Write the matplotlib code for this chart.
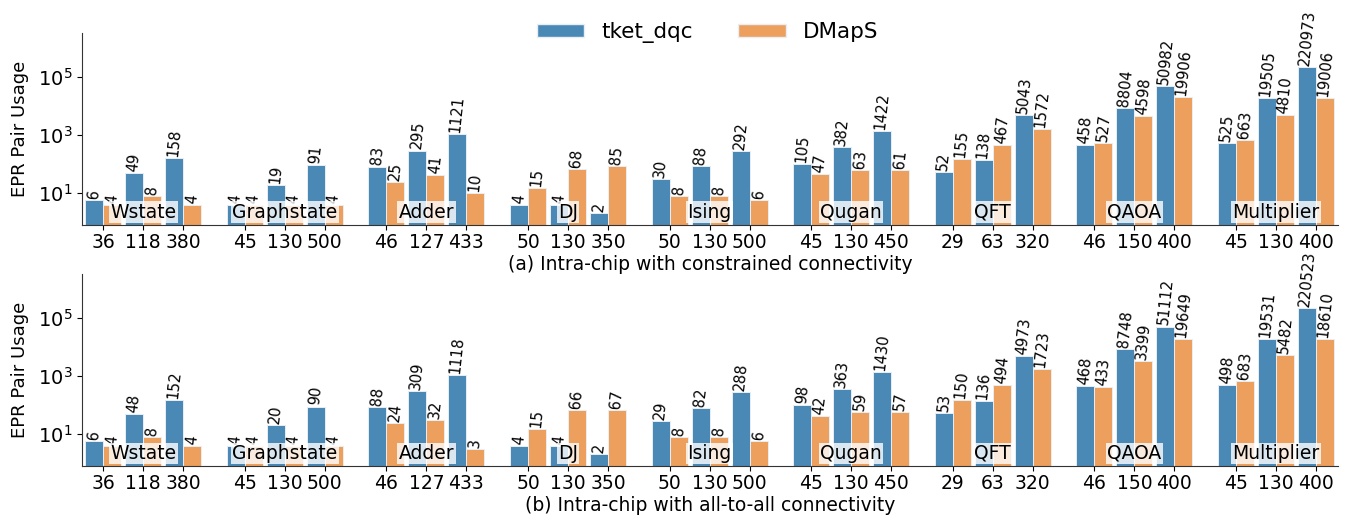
import matplotlib
matplotlib.use("Agg")
import matplotlib.pyplot as plt
import numpy as np
from matplotlib.patches import Patch
from matplotlib.ticker import NullLocator

benchmarks = ["Wstate", "Graphstate", "Adder", "DJ", "Ising", "Qugan", "QFT", "QAOA", "Multiplier"]
sizes = [[36, 118, 380], [45, 130, 500], [46, 127, 433], [50, 130, 350], [50, 130, 500],
         [45, 130, 450], [29, 63, 320], [46, 150, 400], [45, 130, 400]]

tket_a = [[6, 49, 158], [4, 19, 91], [83, 295, 1121], [4, 4, 2], [30, 88, 292],
          [105, 382, 1422], [52, 138, 5043], [458, 8804, 50982], [525, 19505, 220973]]
dmaps_a = [[4, 8, 4], [4, 4, 4], [25, 41, 10], [15, 68, 85], [8, 8, 6],
           [47, 63, 61], [155, 467, 1572], [527, 4598, 19906], [663, 4810, 19006]]

tket_b = [[6, 48, 152], [4, 20, 90], [88, 309, 1118], [4, 4, 2], [29, 82, 288],
          [98, 363, 1430], [53, 136, 4973], [468, 8748, 51112], [498, 19531, 220523]]
dmaps_b = [[4, 8, 4], [4, 4, 4], [24, 32, 3], [15, 66, 67], [8, 8, 6],
           [42, 59, 57], [150, 494, 1723], [433, 3399, 19649], [683, 5482, 18610]]

series_names = ["tket_dqc", "DMapS"]
panel_titles = ["(a) Intra-chip with constrained connectivity",
                "(b) Intra-chip with all-to-all connectivity"]

BLUE = "#4a89b6"
ORANGE = "#eda05e"
EDGE = "#e8eef3"
GROUP_STEP = 3.54
BW = 0.45

fig = plt.figure(figsize=(13.48, 5.15), dpi=100)
ax_a = fig.add_axes([0.0608, 0.563, 0.9318, 0.373])
ax_b = fig.add_axes([0.0608, 0.095, 0.9318, 0.373])


def draw(ax, tket, dmaps, title):
    ax.set_yscale("log")
    xs, labels = [], []
    for g, name in enumerate(benchmarks):
        for j in range(3):
            x = g * GROUP_STEP + j
            xs.append(x)
            labels.append(str(sizes[g][j]))
            for k, (vals, col) in enumerate(((tket, BLUE), (dmaps, ORANGE))):
                v = vals[g][j]
                bx = x + (k - 0.5) * BW
                ax.bar(bx, v, width=BW, bottom=0.01, color=col, edgecolor=EDGE,
                       linewidth=0.7, zorder=2)
                ax.text(bx, v * 1.06, str(v), rotation=84, ha="center", va="bottom",
                        fontsize=10.5, zorder=4)
        ax.text(g * GROUP_STEP + 1, 2.2, name, ha="center", va="center", fontsize=13.5,
                zorder=5,
                bbox=dict(facecolor="white", alpha=0.8, edgecolor="none", pad=1.0))
    ax.set_xticks(xs)
    ax.set_xticklabels(labels, fontsize=13.5)
    ax.set_xlim(xs[0] - 0.53, xs[-1] + 0.55)
    ax.set_ylim(0.8, 3.3e6)
    ax.set_yticks([10, 1e3, 1e5])
    ax.yaxis.set_minor_locator(NullLocator())
    ax.tick_params(axis="y", labelsize=14)
    ax.tick_params(axis="x", pad=2.5)
    ax.set_ylabel("EPR Pair Usage", fontsize=13, labelpad=6)
    ax.set_xlabel(title, fontsize=13.5, labelpad=2)
    for s in ("top", "right"):
        ax.spines[s].set_visible(False)
    for s in ("left", "bottom"):
        ax.spines[s].set_color("#333333")


draw(ax_a, tket_a, dmaps_a, panel_titles[0])
draw(ax_b, tket_b, dmaps_b, panel_titles[1])

handles = [Patch(facecolor=BLUE, edgecolor=EDGE), Patch(facecolor=ORANGE, edgecolor=EDGE)]
fig.legend(handles, series_names, loc="upper center", bbox_to_anchor=(0.525, 0.995), ncol=2,
           frameon=False, fontsize=15.5, handlelength=2.2, handleheight=0.6, columnspacing=2.1,
           handletextpad=0.8)

fig.savefig("out.png", dpi=100)
